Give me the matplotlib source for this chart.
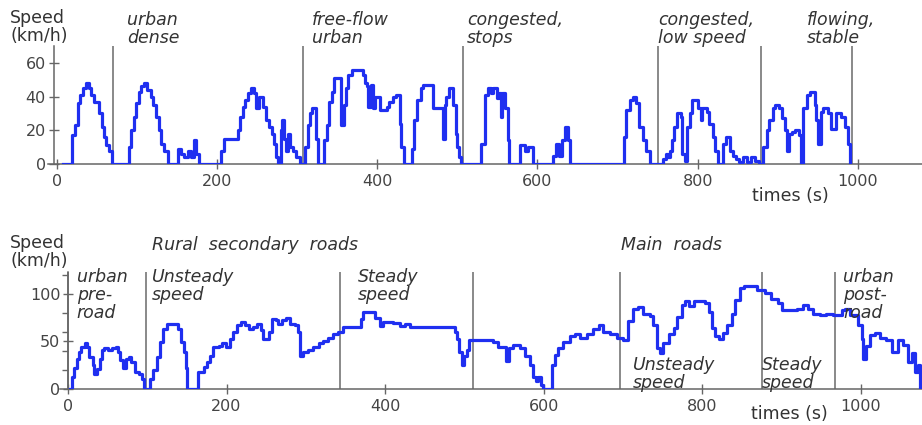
import matplotlib.pyplot as plt
from matplotlib.transforms import blended_transform_factory

W, H = 922, 425

# --- urban cycle (top): time (s), speed (km/h) ---
urban_t = [8, 19, 23, 26, 29, 33, 36, 40, 43, 47, 53, 56, 59, 61, 65, 69,
           90, 93, 96, 99, 102, 105, 109, 113, 117, 120, 124, 127, 130, 134, 139,
           151, 155, 159, 164, 168, 171, 174, 178,
           205, 209, 226, 229, 232, 235, 239, 242, 246, 249, 252, 257, 261, 265, 268, 271, 273, 276,
           280, 281, 284, 286, 288, 291, 295, 299, 303,
           310, 313, 316, 318, 323, 326,
           334, 337, 340, 343, 346, 355, 358, 361, 364, 368, 382, 385, 387, 389, 392, 395, 397,
           403, 412, 415, 420, 424, 428, 430, 433,
           443, 446, 450, 454, 457, 470, 472, 482, 484, 486, 489, 495, 498, 500, 502, 504,
           530, 535, 538, 542, 545, 549, 552, 554, 556, 559, 563, 565,
           578, 584, 588, 594,
           620, 623, 627, 631, 634, 638, 641,
           708, 711, 715, 719, 723, 727, 732, 736, 740,
           757, 760, 763, 765, 768, 771, 774, 779, 781, 784, 787, 791, 793, 797, 800, 804, 806,
           812, 814, 819, 822, 825, 832, 835, 840, 844, 848, 852, 856, 862, 866, 872, 877,
           882, 886, 889, 894, 897, 902, 905, 909, 912, 914, 918, 922, 927, 929,
           932, 936, 940, 944, 946, 948, 950, 954, 957, 963, 967, 973, 979, 984, 988, 990]
urban_v = [0, 17, 23, 36, 41, 45, 48, 45, 41, 37, 30, 22, 16, 11, 8, 0,
           10, 20, 28, 36, 43, 46, 48, 44, 40, 35, 28, 20, 12, 8, 0,
           9, 6, 4, 8, 4, 14, 6, 0,
           8, 15, 20, 28, 34, 38, 42, 45, 42, 33, 40, 34, 26, 22, 18, 12, 4, 0,
           20, 26, 15, 8, 18, 10, 8, 4, 0,
           10, 23, 30, 33, 15, 0,
           14, 23, 37, 43, 51, 23, 35, 45, 53, 56, 53, 48, 46, 34, 47, 33, 40,
           32, 34, 37, 40, 41, 24, 10, 0,
           9, 26, 38, 45, 47, 33, 33, 15, 35, 40, 45, 35, 18, 10, 4, 0,
           12, 41, 45, 42, 45, 39, 42, 28, 42, 33, 14, 0,
           11, 8, 10, 0,
           5, 12, 5, 14, 22, 14, 0,
           16, 32, 38, 40, 36, 22, 14, 8, 0,
           3, 6, 4, 8, 14, 22, 30, 28, 6, 2, 22, 30, 38, 38, 33, 26, 33,
           31, 24, 16, 8, 0, 12, 16, 8, 5, 3, 1, 4, 1, 4, 2, 0,
           10, 20, 26, 33, 35, 33, 27, 20, 8, 18, 19, 20, 17, 0,
           33, 41, 43, 43, 35, 26, 12, 31, 33, 30, 21, 30, 28, 22, 12, 0]
urban_bounds = [70, 307, 507, 751, 879, 993]
urban_labels = ['urban\ndense', 'free-flow\nurban', 'congested,\nstops',
                'congested,\nlow speed', 'flowing,\nstable']

# --- road cycle (bottom) ---
road_t = [2, 4.6, 7.5, 11, 14, 17, 21, 24.5, 27, 31, 33, 37, 40, 42.5, 45, 51, 55, 61, 63.5,
          66, 70, 73, 77, 80, 84, 90, 93, 96,
          103, 107, 112, 116, 120, 124.5, 136, 139, 143, 146, 149, 150.5,
          164, 171, 175, 179, 182.5, 190, 194, 199, 204, 207.6, 212.6, 217.7, 223, 228.6,
          233.7, 239, 243, 246, 254, 257, 262, 265, 269.5, 275, 280, 286, 289.6, 292.6, 297,
          303, 309, 316, 322, 328, 334.6, 341, 347, 367, 370, 372, 383, 387, 393, 397.6,
          410, 418.6, 425, 431, 482, 488, 490.6, 493, 496.5, 499.5, 502.8, 506, 524, 536,
          542.7, 549, 552.4, 556.5, 561.6, 570, 576, 582.6, 587, 590, 593, 597, 599, 607,
          610, 614, 618, 624.6, 633, 639.4, 645.6, 654, 662.5, 670, 675, 683.6, 692, 700.5,
          706.8, 713, 719.5, 725.8, 734, 738.4, 742.6, 746, 751, 757.4, 763.7, 768, 774,
          778.6, 782.8, 789, 803.4, 808, 812, 816, 820.5, 826, 831, 837.4, 841.6, 847, 852,
          862.5, 868.5, 879, 887, 895.7, 900, 910, 919, 927, 933, 940, 948, 956, 965, 975.6,
          979.8, 986, 996.7, 1001, 1003, 1007, 1012, 1017.5, 1024, 1032, 1038.6, 1047, 1053,
          1059.6, 1063.8, 1068, 1072, 1075]
road_v = [0, 13, 22, 32, 39, 44.6, 48, 44.6, 34, 25, 16, 21, 31.6, 41, 43.5, 41, 43.5, 44.6, 39,
          30, 22, 31.6, 34, 28, 18, 16, 11, 0,
          11, 20, 34, 49.6, 63, 68, 68, 63, 49, 39, 22, 0,
          18, 23, 28, 35, 44, 45, 48, 44, 53, 60, 67, 70, 67, 63,
          65, 68, 62, 53, 60, 74, 73, 68, 73, 75, 68, 67, 60, 35, 38.6,
          41, 44.6, 48, 50, 54, 58, 60, 65, 65, 74, 80.7, 80.7, 75, 66, 70,
          69.5, 66, 68, 65, 65, 60, 53, 39, 25, 35, 41, 52, 51, 49.8,
          44.6, 44.6, 29.5, 43.5, 46, 43.5, 34.6, 25.6, 13, 8, 13, 4, 0, 0,
          25.6, 36, 43.5, 49.8, 56, 57.5, 53.5, 57.5, 63, 67, 60, 57.5, 54, 52,
          71.6, 84, 86, 79, 77, 67, 43.5, 37.6, 48, 57.5, 64, 76, 88,
          92, 87.7, 92, 90, 80.7, 64, 55.6, 53, 59, 67.7, 79, 93.6, 106, 108.8,
          108.8, 104, 100.7, 95, 90, 83, 83, 84.5, 88, 84.5, 79, 77.6, 79, 78, 83,
          84.5, 77.6, 67, 53, 31.6, 45.6, 57, 59, 54, 52, 39, 52, 46,
          28, 37.6, 18, 25.6, 0]
road_bounds = [0, 99, 343, 511, 696, 875, 967]

BLUE = '#1f2ff0'
GREY = '#808080'
TXT = '#333333'

plt.rcParams['font.family'] = 'DejaVu Sans'

fig = plt.figure(figsize=(W / 100, H / 100), dpi=100)
ax1 = fig.add_axes([48 / W, 1 - 164 / H, 874 / W, 118 / H])
ax2 = fig.add_axes([60 / W, 1 - 389 / H, 862 / W, 117 / H])


def style(ax, xlim, ylim, yticks, spine_x):
    ax.set_xlim(*xlim)
    ax.set_ylim(*ylim)
    for s in ['top', 'right']:
        ax.spines[s].set_visible(False)
    for s in ['left', 'bottom']:
        ax.spines[s].set_color('#666666')
        ax.spines[s].set_linewidth(1.1)
    ax.spines['left'].set_position(('data', spine_x))
    ax.set_xticks([0, 200, 400, 600, 800, 1000])
    ax.set_yticks(yticks)
    ax.tick_params(direction='inout', length=7, width=1, color='#666666',
                   labelsize=11.5, labelcolor='#444444')
    ax.tick_params(axis='y', pad=2)
    ax.tick_params(axis='x', pad=4)
    ax.patch.set_alpha(0)


style(ax1, (-11, 1080), (0, 70), [0, 20, 40, 60], -4)
style(ax2, (-10, 1077), (0, 123), [0, 50, 100], 0)
ax2.set_yticks([20, 40, 60, 80, 120], minor=True)
ax2.tick_params(axis='y', which='minor', direction='out', length=4, width=1, color='#666666')

for b in urban_bounds:
    ax1.axvline(b, color=GREY, lw=1.3, zorder=1)
for b in road_bounds:
    ax2.axvline(b, color=GREY, lw=1.3, zorder=1)

ax1.plot(urban_t, urban_v, drawstyle='steps-post', color=BLUE, lw=2.3, zorder=3)
ax2.plot(road_t, road_v, drawstyle='steps-post', color=BLUE, lw=2.3, zorder=3)


def fy(py):
    return 1 - py / H


# labels
lab = dict(fontsize=12.5, color=TXT, va='top', linespacing=1.0)
ital = dict(lab, style='italic')

fig.text(10 / W, fy(9), 'Speed\n(km/h)', **lab)
fig.text(10 / W, fy(234), 'Speed\n(km/h)', **lab)

t1 = blended_transform_factory(ax1.transData, fig.transFigure)
for x, s in zip([88, 318, 512, 751, 936], urban_labels):
    fig.text(x, fy(11), s, transform=t1, **ital)

t2 = blended_transform_factory(ax2.transData, fig.transFigure)
fig.text(106, fy(236), 'Rural  secondary  roads', transform=t2, **ital)
fig.text(698, fy(236), 'Main  roads', transform=t2, **ital)
fig.text(11, fy(268), 'urban\npre-\nroad', transform=t2, **ital)
fig.text(106, fy(268), 'Unsteady\nspeed', transform=t2, **ital)
fig.text(366, fy(268), 'Steady\nspeed', transform=t2, **ital)
fig.text(978, fy(268), 'urban\npost-\nroad', transform=t2, **ital)
fig.text(712, fy(356), 'Unsteady\nspeed', transform=t2, **ital)
fig.text(875, fy(356), 'Steady\nspeed', transform=t2, **ital)

fig.text(790 / W, fy(196), 'times (s)', fontsize=12.5, color=TXT, ha='center', va='center')
fig.text(789 / W, fy(423), 'times (s)', fontsize=12.5, color=TXT, ha='center', va='bottom')

fig.savefig('out.png', dpi=100)
